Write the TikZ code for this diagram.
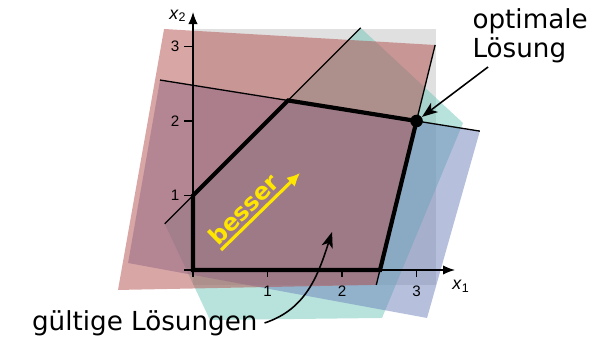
\documentclass[tikz,border=0pt]{standalone}
\usepackage{fontspec}
\setmainfont{DejaVu Sans}
\newfontfamily\helv{Liberation Sans}
\usetikzlibrary{arrows.meta}
\definecolor{cgray}{HTML}{E0E0E0}
\definecolor{cpink}{HTML}{B34D4D}
\definecolor{cteal}{HTML}{71C7B9}
\definecolor{cblue}{HTML}{6D81BB}
\definecolor{cyel}{HTML}{FFE600}
\begin{document}
\begin{tikzpicture}[x=1cm,y=1cm,
  thinln/.style={line width=0.5pt},
  thickln/.style={line width=1.6pt, line join=miter},
  axisln/.style={line width=0.55pt,-{Latex[length=4.6pt,width=3.6pt]}},
  tickln/.style={line width=0.5pt},
  ticklab/.style={font=\helv\fontsize{5.8}{7}\selectfont, inner sep=0pt},
  axlab/.style={font=\helv\fontsize{6.8}{8}\selectfont, inner sep=0pt},
  biglab/.style={font=\fontsize{10}{11}\selectfont, inner sep=0pt},
  pointer/.style={line width=0.6pt,-{Stealth[length=6pt,width=4.4pt,inset=1.6pt]}}]
\useasboundingbox (-2.591,-0.926) rectangle (5.597,3.624);

% constraint regions
\fill[cgray] (0,-0.2) rectangle (3.262,3.235);
\fill[cteal, opacity=0.5] (-0.38,0.62) -- (2.25,3.25) -- (3.624,1.973) -- (2.537,-0.644) -- (0.228,-0.671) -- cycle;
\fill[cblue, opacity=0.5] (-0.443,2.55) -- (3.85,1.864) -- (3.141,-0.644) -- (-0.872,0.094) -- cycle;
\fill[cpink, opacity=0.5] (-0.389,3.235) -- (3.25,3.02) -- (2.46,-0.2) -- (-1.007,-0.268) -- cycle;

% constraint lines
\draw[thinln] (-0.38,0.62) -- (2.25,3.25);
\draw[thinln] (-0.443,2.55) -- (3.85,1.864);
\draw[thinln] (3.25,3.02) -- (2.46,-0.2);

% axes
\coordinate (O) at (0,0);
\coordinate (X1end) at (3.517,0);
\coordinate (X2end) at (0,3.463);
\draw[axisln] (O) -- (X1end);
\draw[axisln] (O) -- (X2end);
\foreach \i in {0,1,2,3} {
  \draw[tickln] (\i,0) -- (\i,-0.09);
  \draw[tickln] (0,\i) -- (-0.12,\i);
}
\foreach \i in {1,2,3} {
  \node[ticklab] (tx\i) at (\i,-0.29) {\i};
  \node[ticklab] (ty\i) at (-0.24,\i) {\i};
}
\node[axlab] (x1lab) at (3.6,-0.22) {\textit{x}\textsubscript{1}};
\node[axlab] (x2lab) at (-0.2,3.41) {\textit{x}\textsubscript{2}};

% feasible polygon
\coordinate (A) at (0,1);
\coordinate (B) at (1.2755,2.2755);
\coordinate (C) at (3,2);
\coordinate (D) at (2.51,0);
\draw[thickln] (O) -- (A) -- (B) -- (C) -- (D) -- cycle;
\node[circle, fill=black, inner sep=0pt, minimum size=4.8pt] (opt) at (C) {};

% besser
\node[rotate=44.5, text=cyel, inner sep=0pt, font=\bfseries\fontsize{9}{10}\selectfont] (bes) at (0.678,0.819) {besser};
\coordinate (ys) at (0.376,0.268);
\coordinate (ye) at (1.436,1.302);
\draw[cyel, line width=1.2pt, -{Latex[length=5pt,width=4.8pt]}] (ys) -- (ye);

% labels
\node[biglab, align=left, anchor=west] (optlab) at (3.745,3.14) {optimale\\Lösung};
\coordinate (as) at (3.96,2.725);
\draw[pointer] (as) -- (opt);

\node[biglab, anchor=east] (gl) at (0.872,-0.711) {gültige Lösungen};
\coordinate (gt) at (1.866,0.51);
\draw[pointer] ([xshift=2.5pt]gl.east) to[out=18, in=-108] (gt);
\end{tikzpicture}
\end{document}
